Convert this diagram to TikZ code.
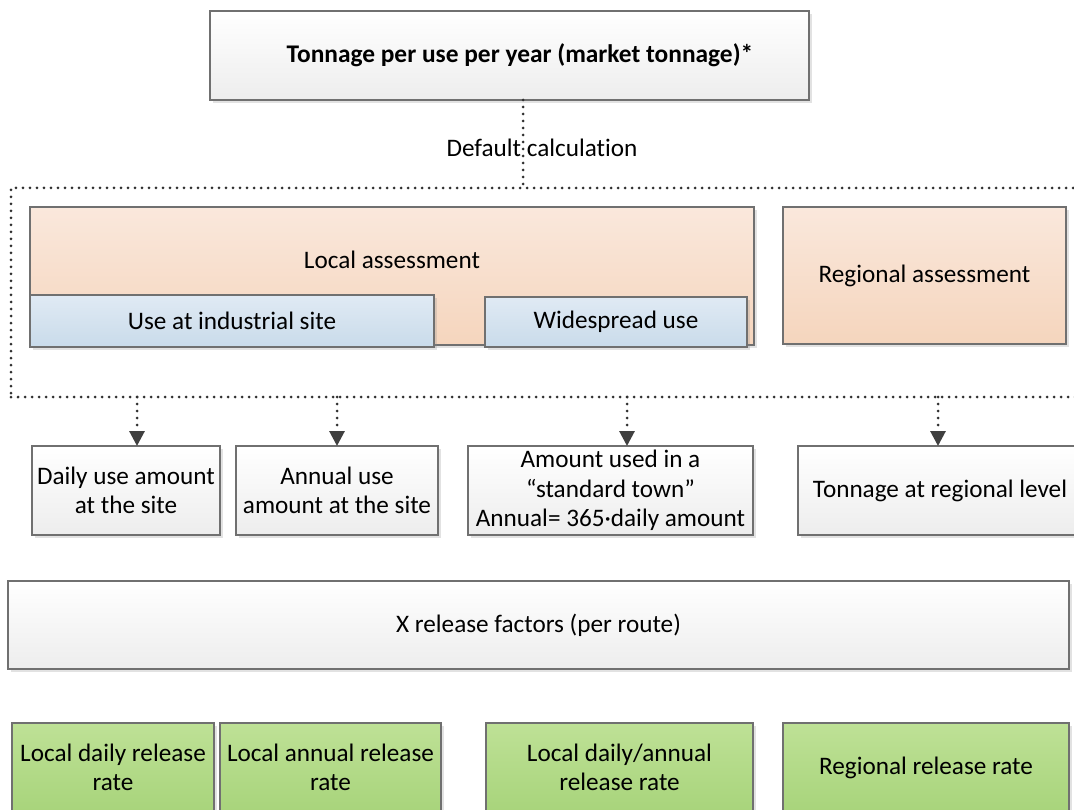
\documentclass[tikz,border=0pt]{standalone}
\usepackage{fontspec}
\setmainfont{Carlito}[RawFeature={-liga;-clig;-dlig}]
\usetikzlibrary{arrows.meta,shadows,calc}
\definecolor{edge}{HTML}{707070}
\definecolor{dotc}{HTML}{303030}
\definecolor{gtop}{HTML}{FFFFFF}
\definecolor{gbot}{HTML}{EDEDED}
\definecolor{otop}{HTML}{FAE8DC}
\definecolor{obot}{HTML}{F5D5BD}
\definecolor{btop}{HTML}{E0EAF4}
\definecolor{bbot}{HTML}{C9DBEA}
\definecolor{ntop}{HTML}{BEE196}
\definecolor{nbot}{HTML}{A8D47B}
\definecolor{arrc}{HTML}{404040}
\tikzset{
  every node/.style={font=\fontsize{25.2}{29.5}\selectfont, inner sep=0pt, outer sep=0pt},
  basebox/.style={draw=edge, line width=1.2pt, rectangle, align=center,
    drop shadow={shadow xshift=3pt, shadow yshift=-3pt, opacity=0.25, fill=black!45}},
  graybox/.style={basebox, top color=gtop, bottom color=gbot},
  orangebox/.style={basebox, top color=otop, bottom color=obot},
  bluebox/.style={basebox, top color=btop, bottom color=bbot},
  greenbox/.style={basebox, top color=ntop, bottom color=nbot},
  dotline/.style={draw=dotc, line width=3pt, line cap=round, dash pattern=on 0pt off 7pt},
  dotarrow/.style={dotline, -{Triangle[width=15pt,length=15pt,color=arrc]}},
  plain/.style={align=center}
}
\begin{document}
\begin{tikzpicture}[x=1pt,y=-1pt]
\useasboundingbox (0,0) rectangle (1074,810);
\clip (0,0) rectangle (1074,810);
\fill[white] (0,0) rectangle (1074,810);

% top box
\node[graybox, minimum width=599pt, minimum height=89pt] (top) at (509.5,55.5) {};
\node[plain, font=\fontsize{25.4}{29.5}\selectfont\bfseries] (toptxt) at (520,55)
  {Tonnage per use per year (market tonnage)*};

% dotted frame
\node[dotline, rectangle, minimum width=1074pt, minimum height=209pt] (frame) at (548,292.5) {};

% connector top -> frame
\coordinate (c0) at (523,0);
\draw[dotline] (top.south -| c0) -- (frame.north -| c0);
\node[plain] (deflabel) at (542,148) {Default calculation};

% local / regional
\node[orangebox, minimum width=724pt, minimum height=138pt] (local) at (392,276) {};
\node[plain] (localtxt) at (392,260) {Local assessment};
\node[bluebox, minimum width=404pt, minimum height=52pt] (indus) at (232,321) {Use at industrial site};
\node[bluebox, minimum width=262pt, minimum height=50pt] (wide) at (616,322) {Widespread use};
\node[orangebox, minimum width=283pt, minimum height=137pt] (regional) at (924.5,275.5) {Regional assessment};

% middle row
\node[graybox, minimum width=188pt, minimum height=89pt] (daily) at (126,490.5) {Daily use amount\\at the site};
\node[graybox, minimum width=202pt, minimum height=89pt] (annual) at (337,490.5) {Annual use\\amount at the site};
\node[graybox, minimum width=285pt, minimum height=89pt] (amount) at (610.5,490.5) {Amount used in a\\“standard town”\\Annual= 365·daily amount};
\node[graybox, minimum width=284pt, minimum height=89pt] (tonreg) at (940,490.5) {Tonnage at regional level};

% arrows from frame
\coordinate (a1) at (137,0);
\coordinate (a2) at (337,0);
\coordinate (a3) at (627,0);
\coordinate (a4) at (938,0);
\draw[dotarrow] (frame.south -| a1) -- (daily.north -| a1);
\draw[dotarrow] (frame.south -| a2) -- (annual.north -| a2);
\draw[dotarrow] (frame.south -| a3) -- (amount.north -| a3);
\draw[dotarrow] (frame.south -| a4) -- (tonreg.north -| a4);

% release factors
\node[graybox, minimum width=1061pt, minimum height=88pt] (xrel) at (538.5,625) {X release factors (per route)};

% green row
\node[greenbox, minimum width=202pt, minimum height=89pt] (g1) at (113,767.5) {Local daily release\\rate};
\node[greenbox, minimum width=221pt, minimum height=89pt] (g2) at (330.5,767.5) {Local annual release\\rate};
\node[greenbox, minimum width=267pt, minimum height=89pt] (g3) at (619.5,767.5) {Local daily/annual\\release rate};
\node[greenbox, minimum width=286pt, minimum height=89pt] (g4) at (926,767.5) {Regional release rate};
\end{tikzpicture}
\end{document}
